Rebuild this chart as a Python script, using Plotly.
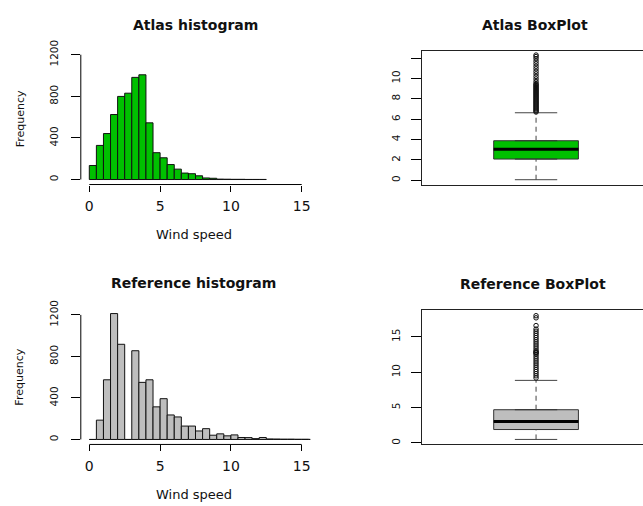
import plotly.graph_objects as go

W, H = 643, 506

# ---------------- data ----------------
atlas_breaks = [0.0, 0.5, 1.0, 1.5, 2.0, 2.5, 3.0, 3.5, 4.0, 4.5, 5.0, 5.5, 6.0, 6.5,
                7.0, 7.5, 8.0, 8.5, 9.0, 9.5, 10.0, 10.5, 11.0, 11.5, 12.0, 12.5]
atlas_counts = [135, 328, 442, 625, 799, 830, 982, 1007, 545, 258, 209, 144, 100, 62,
                56, 36, 15, 12, 4, 3, 2, 2, 1, 1, 1]

ref_breaks = [0.0, 0.5, 1.0, 1.5, 2.0, 2.5, 3.0, 3.5, 4.0, 4.5, 5.0, 5.5, 6.0, 6.5,
              7.0, 7.5, 8.0, 8.5, 9.0, 9.5, 10.0, 10.5, 11.0, 11.5, 12.0, 12.5, 13.0,
              13.5, 14.0, 14.5, 15.0, 15.5, 16.0, 16.5, 17.0, 17.5, 18.0]
ref_counts = [0, 186, 575, 1213, 917, 0, 855, 550, 575, 314, 393, 236, 217, 129,
              129, 82, 104, 41, 54, 35, 44, 19, 18, 8, 19, 5, 4, 3, 3, 2, 2, 1, 1,
              1, 0, 2]

hist_xticks = [0, 5, 10, 15]
hist_yticks = [0, 400, 800, 1200]

# five-number summaries: lower whisker, Q1, median, Q3, upper whisker
atlas_five = [0.05, 2.08, 3.05, 3.88, 6.63]
ref_five = [0.5, 1.9, 3.04, 4.7, 8.85]

atlas_outliers = [6.7, 6.8, 6.9, 7.0, 7.1, 7.2, 7.3, 7.4, 7.5, 7.6, 7.7, 7.8, 7.9,
                  8.0, 8.1, 8.2, 8.3, 8.4, 8.5, 8.6, 8.7, 8.8, 8.9, 9.0, 9.1, 9.2,
                  9.3, 9.4, 9.5, 9.7, 9.95, 10.2, 10.45, 10.7, 10.95, 11.2, 11.45,
                  11.7, 11.95, 12.15, 12.3]
ref_outliers = [9.2, 9.5, 9.8, 10.1, 10.4, 10.7, 11.0, 11.3, 11.6, 11.9, 12.2, 12.5,
                12.7, 12.8, 12.9, 13.1, 13.4, 13.7, 14.0, 14.3, 14.6, 14.9, 15.2,
                15.5, 15.8, 16.1, 16.6, 17.7, 18.0]

atlas_box_yticks = [0, 2, 4, 6, 8, 10, 12]
atlas_box_ylabels = ["0", "2", "4", "6", "8", "10", ""]
ref_box_yticks = [0, 5, 10, 15]
ref_box_ylabels = ["0", "5", "10", "15"]

GREEN = "#00C000"
GREY = "#BEBEBE"
FONT = "DejaVu Sans"
INK = "#111111"


def fx(px):
    return px / W


def fy(py):
    return 1 - py / H


fig = go.Figure()


def add_hist(breaks, counts, color, xa, ya):
    centers = [(breaks[i] + breaks[i + 1]) / 2 for i in range(len(counts))]
    widths = [breaks[i + 1] - breaks[i] for i in range(len(counts))]
    fig.add_trace(go.Bar(x=centers, y=counts, width=widths,
                         marker=dict(color=color, line=dict(color=INK, width=1)),
                         xaxis=xa, yaxis=ya, hoverinfo="skip"))


def add_box(five, outliers, color, xa, ya):
    lo, q1, med, q3, hi = five
    pos, half, cap = 1.0, 0.2, 0.1
    fig.add_trace(go.Box(x=[pos], q1=[q1], median=[med], q3=[q3],
                         lowerfence=[q1], upperfence=[q3], width=2 * half,
                         fillcolor=color, line=dict(color="#333333", width=1),
                         xaxis=xa, yaxis=ya, hoverinfo="skip"))
    fig.add_trace(go.Scatter(x=[pos, pos, None, pos, pos], y=[lo, q1, None, q3, hi],
                             mode="lines", line=dict(color="#444444", width=1, dash="5px,4px"),
                             xaxis=xa, yaxis=ya, hoverinfo="skip"))
    fig.add_trace(go.Scatter(x=[pos - cap, pos + cap, None, pos - cap, pos + cap],
                             y=[lo, lo, None, hi, hi], mode="lines",
                             line=dict(color="#444444", width=1),
                             xaxis=xa, yaxis=ya, hoverinfo="skip"))
    fig.add_trace(go.Scatter(x=[pos - half, pos + half], y=[med, med], mode="lines",
                             line=dict(color="black", width=3),
                             xaxis=xa, yaxis=ya, hoverinfo="skip"))
    fig.add_trace(go.Scatter(x=[pos] * len(outliers), y=outliers, mode="markers",
                             marker=dict(symbol="circle-open", size=4.5, color=INK,
                                         line=dict(width=1, color=INK)),
                             xaxis=xa, yaxis=ya, hoverinfo="skip"))


add_hist(atlas_breaks, atlas_counts, GREEN, "x", "y")
add_box(atlas_five, atlas_outliers, GREEN, "x2", "y2")
add_hist(ref_breaks, ref_counts, GREY, "x3", "y3")
add_box(ref_five, ref_outliers, GREY, "x4", "y4")

hist_x = dict(range=[-0.6, 15.6], tickvals=hist_xticks, ticks="outside", ticklen=6,
              tickcolor="black", tickwidth=1, showline=False, showgrid=False,
              zeroline=False, tickfont=dict(family=FONT, size=14, color=INK),
              ticklabelstandoff=3)
hist_y = dict(range=[-48, 1248], tickvals=hist_yticks, ticks="outside", ticklen=9,
              tickcolor="black", tickwidth=1, showline=False, showgrid=False,
              zeroline=False, tickangle=-90,
              tickfont=dict(family=FONT, size=10.5, color=INK), ticklabelstandoff=9)
box_x = dict(range=[0.46, 1.505], showticklabels=False, ticks="", showline=True,
             mirror=True, linecolor="#222222", linewidth=1, showgrid=False,
             zeroline=False)
box_y = dict(ticks="outside", ticklen=10, tickcolor="black", tickwidth=1,
             showline=True, mirror=False, linecolor="#222222", linewidth=1,
             showgrid=False, zeroline=False, tickangle=-90,
             tickfont=dict(family=FONT, size=10.5, color=INK), ticklabelstandoff=7)

fig.update_layout(
    width=W, height=H, margin=dict(l=0, r=0, t=0, b=0),
    paper_bgcolor="white", plot_bgcolor="white", showlegend=False,
    barmode="overlay",
    xaxis=dict(hist_x, domain=[fx(80.8), fx(310.2)], anchor="y"),
    yaxis=dict(hist_y, domain=[fy(178.4), fy(40.6)], anchor="x"),
    xaxis2=dict(box_x, domain=[fx(421.7), 1.0], anchor="y2"),
    yaxis2=dict(box_y, domain=[fy(179.0), fy(42.3)], anchor="x2", range=[-0.48, 12.66],
                tickvals=atlas_box_yticks, ticktext=atlas_box_ylabels),
    xaxis3=dict(hist_x, domain=[fx(80.8), fx(310.2)], anchor="y3"),
    yaxis3=dict(hist_y, domain=[fy(444.1), fy(306.6)], anchor="x3"),
    xaxis4=dict(box_x, domain=[fx(421.7), 1.0], anchor="y4"),
    yaxis4=dict(box_y, domain=[fy(443.3), fy(306.7)], anchor="x4", range=[-0.1, 18.8],
                tickvals=ref_box_yticks, ticktext=ref_box_ylabels),
)

# R-style axis lines spanning first to last tick on histograms
for xa, ya in (("x", "y"), ("x3", "y3")):
    fig.add_shape(type="line", xref=xa, yref=ya + " domain", x0=hist_xticks[0],
                  x1=hist_xticks[-1], y0=0, y1=0, line=dict(color="black", width=1))
    fig.add_shape(type="line", xref=xa + " domain", yref=ya, x0=0, x1=0,
                  y0=hist_yticks[0], y1=hist_yticks[-1], line=dict(color="black", width=1))


def label(text, px, py, size, bold=False, angle=0):
    fig.add_annotation(text="<b>%s</b>" % text if bold else text, xref="paper",
                       yref="paper", x=fx(px), y=fy(py), showarrow=False,
                       xanchor="center", yanchor="middle", textangle=angle,
                       font=dict(family=FONT, size=size, color=INK))


label("Atlas histogram", 195.5, 15, 14, bold=True)
label("Atlas BoxPlot", 535, 15, 14, bold=True)
label("Reference histogram", 193.7, 279.3, 14, bold=True)
label("Reference BoxPlot", 532.7, 280, 14, bold=True)
label("Wind speed", 194, 229.3, 13)
label("Wind speed", 194, 495, 13)
label("Frequency", 20, 111.7, 11, angle=-90)
label("Frequency", 20, 375.8, 11, angle=-90)

fig.write_html("out.html")
